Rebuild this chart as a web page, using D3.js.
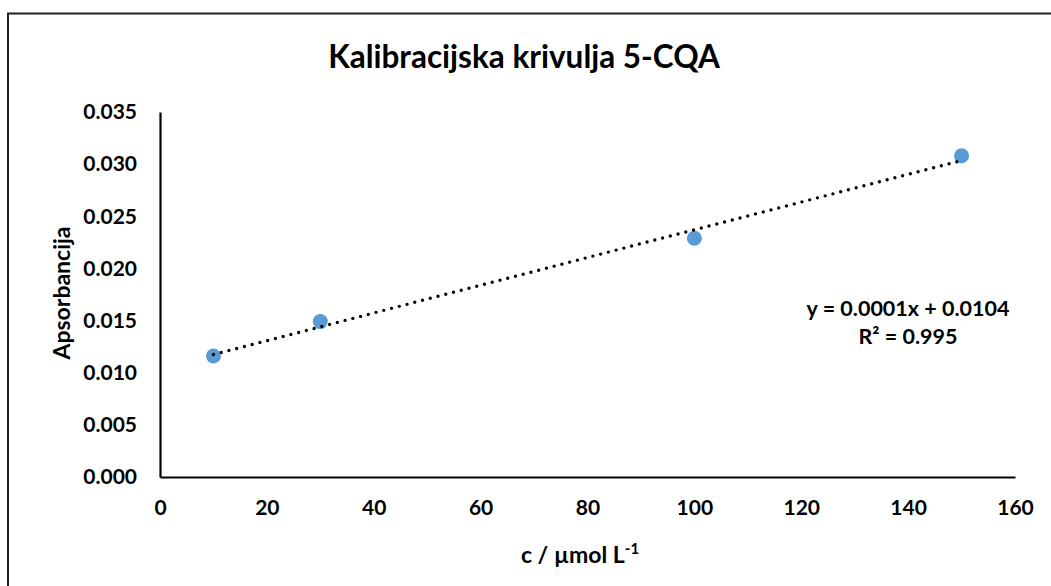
<!DOCTYPE html>
<html>
<head>
<meta charset="utf-8">
<script src="https://cdn.jsdelivr.net/npm/d3@7"></script>
<style>
  body { margin: 0; background: #fff; }
  text { font-family: Lato, "Open Sans", sans-serif; font-weight: bold; fill: #000; }
</style>
</head>
<body>
<div id="chart"></div>
<script>
var width = 1051, height = 586;

// measured data
var conc = [10, 30, 100, 150];
var absorb = [0.0116, 0.0149, 0.0229, 0.0308];
var xTicks = [0, 20, 40, 60, 80, 100, 120, 140, 160];
var yTicks = [0, 0.005, 0.010, 0.015, 0.020, 0.025, 0.030, 0.035];

var margin = {left: 160, right: 36, top: 112, bottom: 109};

var svg = d3.select('#chart')
  .append('svg')
  .attr('width', width)
  .attr('height', height);

// outer chart frame (right and bottom edges fall outside)
svg.append('rect')
  .attr('x', 8)
  .attr('y', 13.5)
  .attr('width', width + 20)
  .attr('height', height + 20)
  .attr('fill', 'none')
  .attr('stroke', '#222')
  .attr('stroke-width', 2);

var x = d3.scaleLinear()
  .domain([0, 160])
  .range([margin.left, width - margin.right]);

var y = d3.scaleLinear()
  .domain([0, 0.035])
  .range([height - margin.bottom, margin.top]);

// axes, no tick marks
var xAxis = svg.append('g')
  .attr('transform', 'translate(0,' + y(0) + ')')
  .call(d3.axisBottom(x).tickValues(xTicks).tickSize(0).tickPadding(23).tickFormat(d3.format('d')));
var yAxis = svg.append('g')
  .attr('transform', 'translate(' + x(0) + ',0)')
  .call(d3.axisLeft(y).tickValues(yTicks).tickSize(0).tickPadding(23).tickFormat(d3.format('.3f')));

[xAxis, yAxis].forEach(function (a) {
  a.select('.domain').attr('stroke', '#000').attr('stroke-width', 2.2);
  a.selectAll('text').style('font-size', '21px').style('font-family', 'Lato, sans-serif').style('font-weight', 'bold').attr('fill', '#000');
});

// points
svg.append('g')
  .selectAll('circle')
  .data(conc)
  .enter()
  .append('circle')
  .attr('cx', function (d) { return x(d); })
  .attr('cy', function (d, i) { return y(absorb[i]); })
  .attr('r', 7.5)
  .attr('fill', '#5b9bd5');

// linear trendline (least squares)
var mx = d3.mean(conc), my = d3.mean(absorb);
var sxy = d3.sum(conc, function (d, i) { return (d - mx) * (absorb[i] - my); });
var sxx = d3.sum(conc, function (d) { return (d - mx) * (d - mx); });
var slope = sxy / sxx, icpt = my - slope * mx;
var xr = d3.extent(conc);

svg.append('line')
  .attr('x1', x(xr[0]))
  .attr('y1', y(slope * xr[0] + icpt))
  .attr('x2', x(xr[1]))
  .attr('y2', y(slope * xr[1] + icpt))
  .attr('stroke', '#000')
  .attr('stroke-width', 3.4)
  .attr('stroke-linecap', 'round')
  .attr('stroke-dasharray', '0 8');

// equation label
svg.append('text')
  .attr('x', 908)
  .attr('y', 316)
  .attr('text-anchor', 'middle')
  .style('font-size', '21.5px')
  .text('y = 0.0001x + 0.0104');
svg.append('text')
  .attr('x', 908)
  .attr('y', 344)
  .attr('text-anchor', 'middle')
  .style('font-size', '21.5px')
  .text('R² = 0.995');

// title
svg.append('text')
  .attr('x', 524)
  .attr('y', 68)
  .attr('text-anchor', 'middle')
  .style('font-size', '31.5px')
  .text('Kalibracijska krivulja 5-CQA');

// axis titles
var xt = svg.append('text')
  .attr('x', 580)
  .attr('y', 563)
  .attr('text-anchor', 'middle')
  .style('font-size', '23px');
xt.append('tspan').text('c / µmol L');
xt.append('tspan').attr('dy', -9).style('font-size', '15px').text('-1');

svg.append('text')
  .attr('transform', 'translate(70,293) rotate(-90)')
  .attr('text-anchor', 'middle')
  .style('font-size', '23px')
  .text('Apsorbancija');
</script>
</body>
</html>
